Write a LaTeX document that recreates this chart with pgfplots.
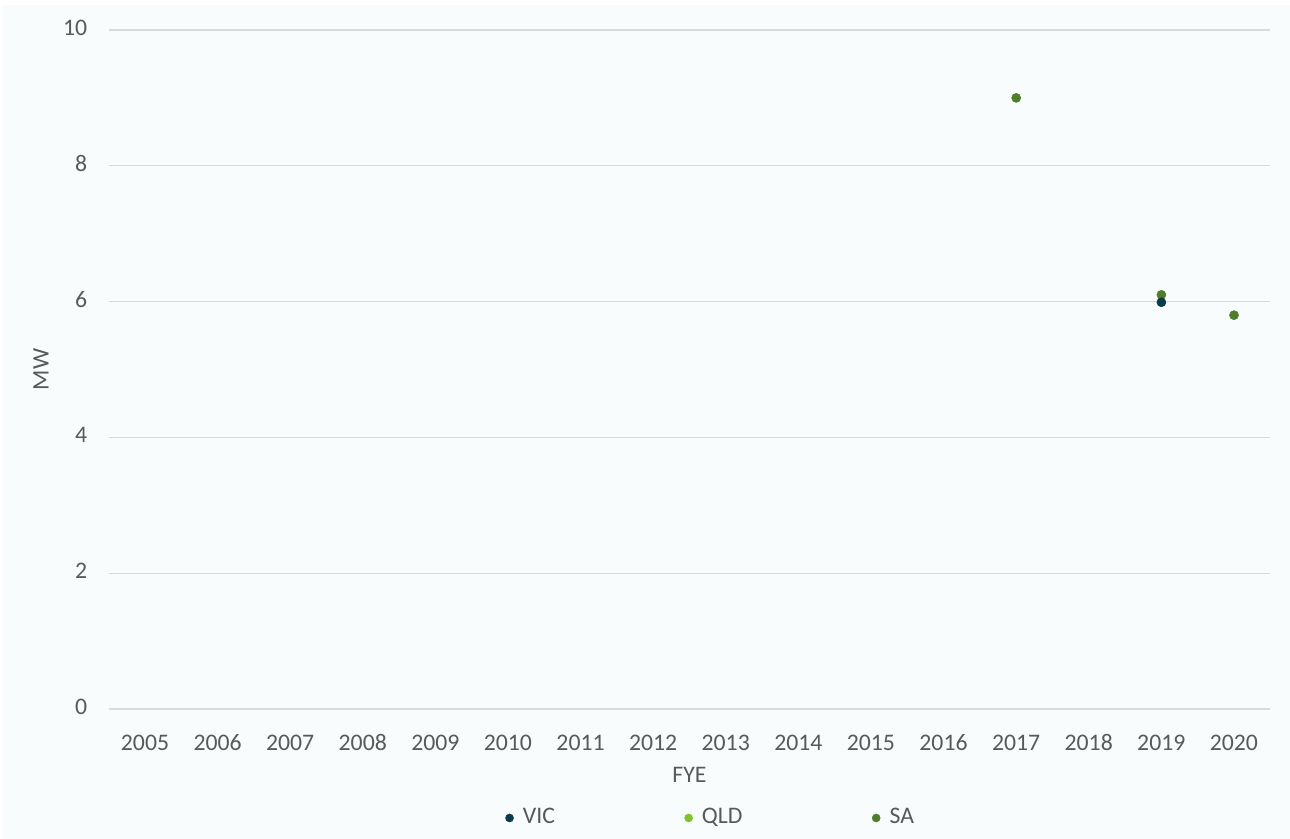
\documentclass[border=0pt]{standalone}
\usepackage{fontspec}
\setmainfont{Carlito}
\usepackage{pgfplots}
\pgfplotsset{compat=1.18}
\definecolor{vic}{HTML}{0B3A4A}
\definecolor{qld}{HTML}{7CC42A}
\definecolor{sa}{HTML}{4E7E2A}
\definecolor{txt}{HTML}{595959}
\definecolor{bg}{HTML}{F8FCFD}
\definecolor{gridc}{HTML}{D9D9D9}
\pgfplotstableread{
x y
2017 9.0
2019 6.1
2020 5.8
}\sadata
\pgfplotstableread{
x y
2019 5.99
}\vicdata
\begin{document}
\fontsize{17.8pt}{21pt}\selectfont
\begin{tikzpicture}[x=0.75pt,y=0.75pt]
\fill[white] (0,0) rectangle (1290,839);
\fill[bg] (3,0) rectangle (1290,834);
\begin{axis}[
  at={(81.525pt,97.5pt)}, anchor=south west,
  scale only axis, width=871.2pt, height=509.25pt,
  xmin=2004.5, xmax=2020.5, ymin=0, ymax=10,
  xtick={2005,...,2020}, ytick={0,2,4,6,8,10},
  /pgf/number format/assume math mode=true,
  typeset ticklabels with strut,
  xticklabel style={/pgf/number format/1000 sep={}, text=txt, font=\fontsize{17.8pt}{21pt}\selectfont, yshift=-10pt},
  yticklabel style={text=txt, font=\fontsize{17.8pt}{21pt}\selectfont, xshift=-10pt},
  major tick length=0pt,
  axis lines*=left,
  x axis line style={draw=gridc, line width=0.8pt, -},
  y axis line style={draw=none},
  ymajorgrids, major grid style={draw=gridc, line width=0.8pt},
  xlabel={FYE}, ylabel={MW},
  label style={text=txt, font=\fontsize{17.8pt}{21pt}\selectfont},
  xlabel style={yshift=5.75pt},
  ylabel style={yshift=-1.25pt},
  legend columns=3,
  legend style={draw=none, fill=none, at={(0.5186,-0.1605)}, anchor=center,
    text=txt, font=\fontsize{17.8pt}{21pt}\selectfont,
    /tikz/every even column/.append style={column sep=95.25pt}},
  clip=false,
]
\addlegendimage{only marks, mark=*, mark size=3pt, color=vic}
\addlegendentry{\hspace{5pt}VIC}
\addlegendimage{only marks, mark=*, mark size=3pt, color=qld}
\addlegendentry{\hspace{5pt}QLD}
\addlegendimage{only marks, mark=*, mark size=3pt, color=sa}
\addlegendentry{\hspace{5pt}SA}
\addplot[only marks, mark=*, mark size=3.4pt, color=sa, forget plot] table[x=x,y=y] {\sadata};
\addplot[only marks, mark=*, mark size=3.4pt, color=vic, forget plot] table[x=x,y=y] {\vicdata};
\end{axis}
\end{tikzpicture}
\end{document}
